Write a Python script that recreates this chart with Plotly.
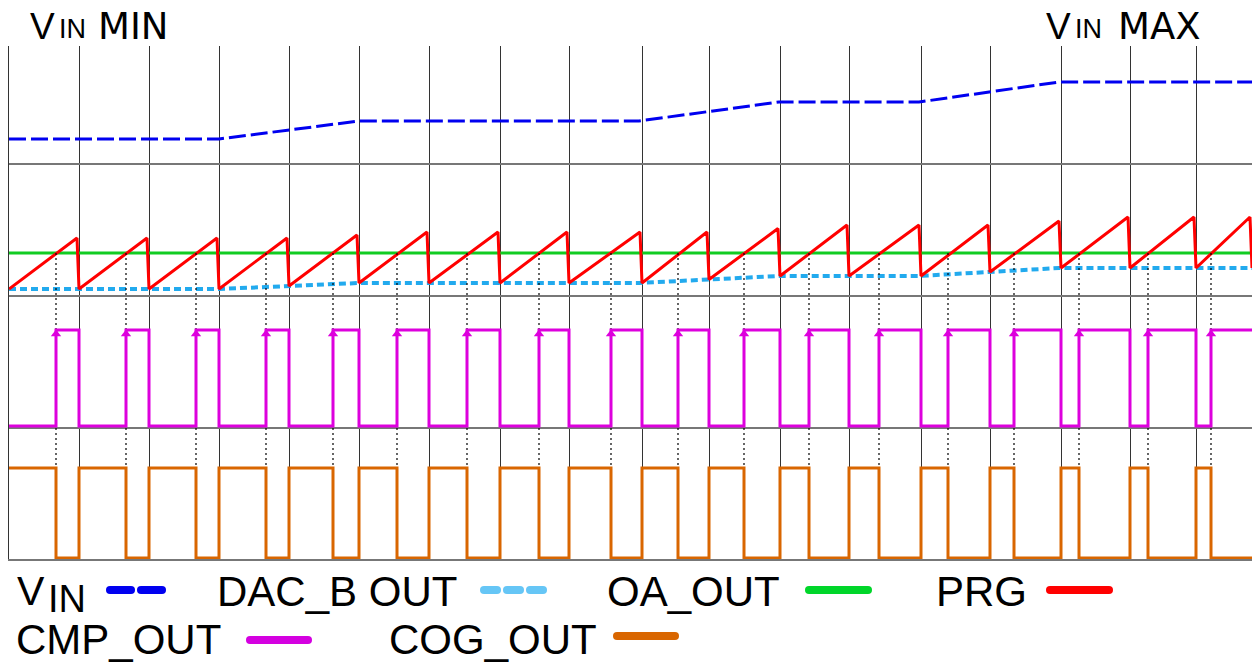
import plotly.graph_objects as go

# ---------------- data (time in arbitrary units, levels in arbitrary units) ----------------
T_END = 1243
# cycle boundaries (PRG resets) – also the vertical grid lines
RESET_T = [0, 70, 140, 210, 280, 350, 420, 491, 560, 633, 700, 771, 840, 912, 981, 1052, 1121, 1187]
# PRG ramp peaks
PEAK_T = [68, 138, 208, 278, 348, 418, 489, 558, 631, 698, 769, 838, 910, 979, 1050, 1119, 1185, 1241]
VALLEY_V = [270, 270, 270, 270, 273, 276, 276, 276, 276, 276, 279.5, 283, 283, 283, 287, 291, 291, 291]
PEAK_V = [321, 321, 321, 321, 324, 327, 327, 327, 327, 327, 330.5, 334, 334, 334, 338, 342, 342, 342]
PRG_END_V = 291

# VIN and DAC_B OUT breakpoints
VIN_T = [0, 210, 350, 630, 770, 910, 1050, 1243]
VIN_V = [420, 420, 438, 438, 457, 457, 477, 477]
DAC_V = [270, 270, 276, 276, 283, 283, 291, 291]

# OA_OUT
OA_T = [0, 1243]
OA_V = [306, 306]

# comparator trip points (PRG crosses OA_OUT)
CROSS_T = [47, 117, 187, 257, 324, 388, 458, 530, 602, 669, 735, 800, 870, 939, 1005, 1070, 1139, 1202]
CMP_LOW, CMP_HIGH = 133, 229
COG_LOW, COG_HIGH = 1, 91

# horizontal separators
HLINES = [0, 131, 263, 395]

# ---------------- geometry helpers (page pixels; body margin is removed) ----------------
W, H = 1257, 667
PL, PR, PT, PB = 9, 1252, 46, 559   # plot box in page pixels
Y_TOP = 513


def px(x):
    return (x - PL) / (PR - PL)


def py(y):
    return (PB - y) / (PB - PT)


# ---------------- traces ----------------
fig = go.Figure()

fig.add_trace(go.Scatter(x=VIN_T, y=VIN_V, mode="lines",
                         line=dict(color="#0000F0", width=3, dash="17px,5px")))
fig.add_trace(go.Scatter(x=VIN_T, y=DAC_V, mode="lines",
                         line=dict(color="#22AAEE", width=4, dash="7px,4px")))
fig.add_trace(go.Scatter(x=OA_T, y=OA_V, mode="lines",
                         line=dict(color="#11CC22", width=3)))

prg_x, prg_y = [], []
for k in range(len(RESET_T)):
    prg_x += [RESET_T[k], PEAK_T[k]]
    prg_y += [VALLEY_V[k], PEAK_V[k]]
prg_x.append(T_END)
prg_y.append(PRG_END_V)
fig.add_trace(go.Scatter(x=prg_x, y=prg_y, mode="lines",
                         line=dict(color="#FF0000", width=3)))

# dotted trip lines
dx, dy = [], []
for c in CROSS_T:
    dx += [c, c, None]
    dy += [OA_V[0], COG_HIGH, None]
fig.add_trace(go.Scatter(x=dx, y=dy, mode="lines",
                         line=dict(color="black", width=1.2, dash="2px,3px")))

# CMP / COG digital waveforms
sx, cmp_y, cog_y = [0], [CMP_LOW], [COG_HIGH]
for k, c in enumerate(CROSS_T):
    sx.append(c)
    cmp_y.append(CMP_HIGH)
    cog_y.append(COG_LOW)
    if k + 1 < len(RESET_T):
        sx.append(RESET_T[k + 1])
        cmp_y.append(CMP_LOW)
        cog_y.append(COG_HIGH)
sx.append(T_END)
cmp_y.append(CMP_HIGH)
cog_y.append(COG_LOW)

fig.add_trace(go.Scatter(x=sx, y=cmp_y, mode="lines", line_shape="hv",
                         line=dict(color="#DD00DD", width=3)))
fig.add_trace(go.Scatter(x=CROSS_T, y=[CMP_HIGH - 4] * len(CROSS_T), mode="markers",
                         marker=dict(symbol="triangle-up", size=9, color="#DD00DD")))
fig.add_trace(go.Scatter(x=sx, y=cog_y, mode="lines", line_shape="hv",
                         line=dict(color="#D96600", width=3)))

# ---------------- annotations / legend ----------------
annotations = []


def ann(text, x, y, size, family="Liberation Sans, Arial, sans-serif"):
    annotations.append(dict(text=text, x=px(x), y=py(y), xref="paper", yref="paper",
                            xanchor="left", yanchor="middle", showarrow=False,
                            font=dict(family=family, size=size, color="black")))


TOPF = "Liberation Sans, Arial, sans-serif"
WIDEF = "DejaVu Sans, Verdana, sans-serif"
ann("V", 28, 26, 37, TOPF)
ann("IN", 57, 29.5, 27, TOPF)
ann("MIN", 96, 26, 37, WIDEF)
ann("V", 1044, 26, 37, TOPF)
ann("IN", 1073, 29.5, 27, TOPF)
ann("MAX", 1116, 26, 37, WIDEF)

ann("V", 15, 591, 41)
ann("IN", 46, 598.5, 38)
ann("DAC_B OUT", 215, 591, 42)
ann("OA_OUT", 605, 591, 42)
ann("PRG", 934, 591, 42)
ann("CMP_OUT", 14, 639.5, 42)
ann("COG_OUT", 387, 639.5, 42)

shapes = []


def seg(x0, x1, y, color, w=8):
    r = w / 2
    shapes.append(dict(type="line", xref="paper", yref="paper",
                       x0=px(x0 + r), x1=px(x1 - r), y0=py(y), y1=py(y),
                       line=dict(color=color, width=w)))
    for cx in (x0 + r, x1 - r):
        shapes.append(dict(type="circle", xref="paper", yref="paper",
                           x0=px(cx - r), x1=px(cx + r), y0=py(y + r), y1=py(y - r),
                           fillcolor=color, line=dict(width=0)))


seg(106, 135, 590, "#0000F0")
seg(137, 166, 590, "#0000F0")
seg(480, 501, 590, "#66C6F6")
seg(503, 524, 590, "#66C6F6")
seg(526, 547, 590, "#66C6F6")
seg(805, 872, 590, "#00D62A")
seg(1046, 1113, 590, "#FF0000")
seg(246, 312, 640, "#D400E0")
seg(613, 679, 636, "#D96600")

fig.update_layout(
    width=W, height=H,
    margin=dict(l=PL, r=W - PR, t=PT, b=H - PB, pad=0),
    paper_bgcolor="white", plot_bgcolor="white",
    showlegend=False,
    hovermode=False,
    annotations=annotations,
    shapes=shapes,
    xaxis=dict(range=[0, T_END], tickvals=RESET_T, showticklabels=False, ticks="",
               showgrid=True, gridcolor="#333333", gridwidth=1, zeroline=False,
               showline=True, linecolor="#777777", linewidth=1.5, mirror=False, fixedrange=True),
    yaxis=dict(range=[0, Y_TOP], tickvals=HLINES, showticklabels=False, ticks="",
               showgrid=True, gridcolor="#777777", gridwidth=1.5, zeroline=False,
               showline=True, linecolor="#333333", linewidth=1, mirror=False, fixedrange=True),
)

fig.write_html(
    "out.html",
    config={"displayModeBar": False},
    post_script="document.body.style.margin='0';document.body.style.overflow='hidden';",
)
